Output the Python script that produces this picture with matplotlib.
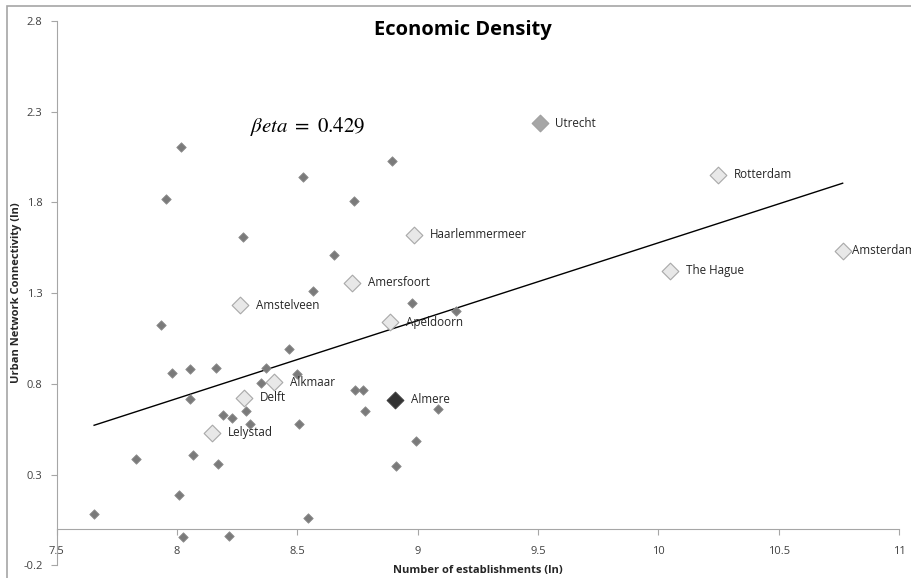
import matplotlib.pyplot as plt
from matplotlib.patches import Rectangle

plt.rcParams['font.family'] = ['Open Sans', 'DejaVu Sans']
plt.rcParams['axes.unicode_minus'] = False
plt.rcParams['mathtext.fontset'] = 'stix'

# unlabelled municipalities: ln(establishments), ln(connectivity)
x_other = [7.656, 7.829, 7.932, 7.978, 8.054, 8.054, 8.008, 8.024, 8.065, 8.161,
           8.171, 8.190, 8.227, 8.217, 8.286, 8.304, 8.349, 8.372, 8.466, 8.497,
           8.506, 8.546, 8.566, 8.739, 8.771, 8.783, 8.909, 8.994, 9.086, 8.975,
           9.160, 8.017, 7.953, 8.524, 8.892, 8.737, 8.274, 8.651]
y_other = [0.083, 0.386, 1.124, 0.861, 0.881, 0.716, 0.187, -0.042, 0.408, 0.885,
           0.356, 0.628, 0.613, -0.037, 0.650, 0.577, 0.806, 0.887, 0.993, 0.852,
           0.577, 0.062, 1.310, 0.766, 0.768, 0.650, 0.349, 0.485, 0.659, 1.247,
           1.203, 2.107, 1.818, 1.938, 2.029, 1.809, 1.607, 1.508]

# named cities
cities = ['Amstelveen', 'Apeldoorn', 'Alkmaar', 'Delft', 'Lelystad', 'Haarlemmermeer',
          'Amersfoort', 'Rotterdam', 'The Hague', 'Amsterdam']
x_cities = [8.264, 8.884, 8.402, 8.278, 8.147, 8.983, 8.727, 10.248, 10.049, 10.765]
y_cities = [1.234, 1.139, 0.808, 0.724, 0.531, 1.622, 1.357, 1.952, 1.423, 1.532]

utrecht = (9.506, 2.235)
almere = (8.905, 0.711)

beta = 0.429
intercept = -2.713

fig = plt.figure(figsize=(9.12, 5.78), dpi=100)
ax = fig.add_axes([0.062, 0.022, 0.924, 0.942])

# chart area border (only left/top edges fall inside the image)
fig.patches.append(Rectangle((7 / 912, -0.5), 2, 1.5 - 6 / 578, transform=fig.transFigure,
                             fill=False, edgecolor='#a6a6a6', linewidth=1.2))

small = 4.8 ** 2
big = 8.5 ** 2
ax.scatter(x_other, y_other, marker='D', s=small, color='#7a7a7a', edgecolors='#8c8c8c',
           linewidths=0.6, zorder=3)
ax.scatter(x_cities, y_cities, marker='D', s=big, color='#e8e8e8', edgecolors='#a8a8a8',
           linewidths=0.8, zorder=3)
ax.scatter([utrecht[0]], [utrecht[1]], marker='D', s=big, color='#a6a6a6', edgecolors='#a0a0a0',
           linewidths=0.8, zorder=3)
ax.scatter([almere[0]], [almere[1]], marker='D', s=big, color='#333333', edgecolors='#404040',
           linewidths=0.8, zorder=3)

for name, cx, cy in zip(cities, x_cities, y_cities):
    off = 7 if name == 'Amsterdam' else 11.5
    ax.annotate(name, (cx, cy), xytext=(off, 0), textcoords='offset points',
                va='center', ha='left', fontsize=8.4, color='#262626')
for name, (cx, cy) in [('Utrecht', utrecht), ('Almere', almere)]:
    ax.annotate(name, (cx, cy), xytext=(11.5, 0), textcoords='offset points',
                va='center', ha='left', fontsize=8.4, color='#262626')

# fitted line across the data range
xmin = min(x_other + x_cities)
xmax = max(x_other + x_cities)
ax.plot([xmin, xmax], [intercept + beta * xmin, intercept + beta * xmax],
        color='black', linewidth=1.0, zorder=2)

ax.text(8.545, 2.22, r'$\beta eta\ =\ 0.429$', fontsize=15, ha='center', va='center')

ax.set_xlim(7.5, 11)
ax.set_ylim(-0.2, 2.8)
ax.set_xticks([7.5, 8, 8.5, 9, 9.5, 10, 10.5, 11])
ax.set_xticklabels(['7.5', '8', '8.5', '9', '9.5', '10', '10.5', '11'])
ax.set_yticks([-0.2, 0.3, 0.8, 1.3, 1.8, 2.3, 2.8])

for s in ['top', 'right']:
    ax.spines[s].set_visible(False)
ax.spines['bottom'].set_position(('data', 0))
ax.spines['bottom'].set_color('#a6a6a6')
ax.spines['left'].set_color('#a6a6a6')
ax.tick_params(axis='both', colors='#a6a6a6', labelcolor='#404040', labelsize=8, length=4)
ax.tick_params(axis='x', pad=8)
ax.tick_params(axis='y', pad=6)

fig.text(463 / 912, 1 - 30 / 578, 'Economic Density', ha='center', va='center',
         fontsize=14.5, fontweight='bold')
fig.text(478 / 912, 1 - 571 / 578, 'Number of establishments (ln)', ha='center', va='center',
         fontsize=8, fontweight='bold', color='#262626')
fig.text(17 / 912, 1 - 293 / 578, 'Urban Network Connectivity (ln)', ha='center', va='center',
         rotation=90, fontsize=8, fontweight='bold', color='#262626')

fig.savefig('out.png', dpi=100)
